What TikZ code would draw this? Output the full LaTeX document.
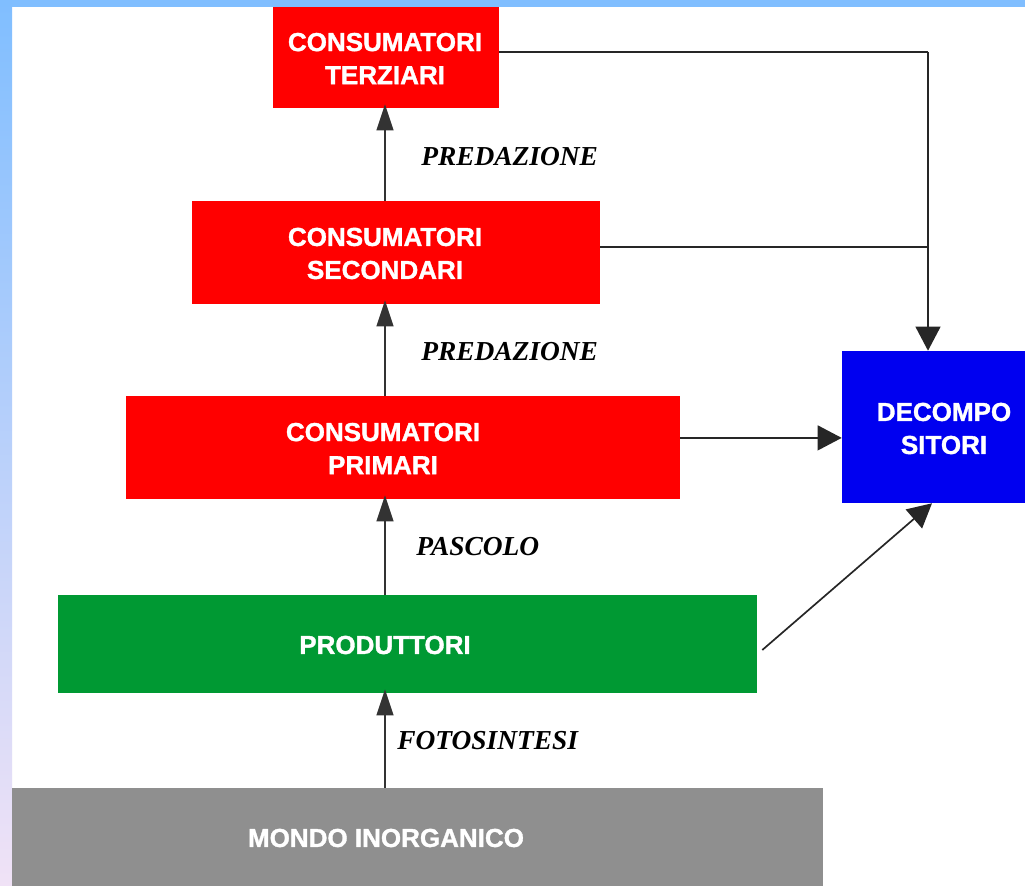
\documentclass[tikz,border=0pt]{standalone}
\usepackage{fontspec}
\setmainfont{Liberation Serif}
\setsansfont{Liberation Sans}
\newfontfamily\levelfont{Liberation Sans}[UprightFeatures={FakeBold=1.3}, BoldFeatures={FakeBold=1.3}]
\usetikzlibrary{arrows.meta}
\definecolor{bgblue}{RGB}{128,190,255}
\definecolor{bglilac}{RGB}{240,226,246}
\definecolor{levred}{RGB}{255,0,0}
\definecolor{levgreen}{RGB}{0,153,51}
\definecolor{levblue}{RGB}{0,0,240}
\definecolor{levgray}{RGB}{143,143,143}

\begin{document}
\begin{tikzpicture}[line cap=butt, line join=miter,
	level/.style={draw=none, fill=#1, minimum width=0pt, inner sep=0pt},
	leveltext/.style={text=white, align=center, inner sep=0pt,
		font=\levelfont\bfseries\fontsize{18.5}{23.5}\selectfont},
	process/.style={anchor=west, inner sep=0pt,
		font=\rmfamily\bfseries\itshape\fontsize{19.5}{22}\selectfont},
	flow/.style={draw=black!85, line width=1.2pt,
		-{Triangle[length=0.6cm, width=0.62cm]}},
	upflow/.style={draw=black!80, line width=1.2pt,
		-{Triangle[length=0.65cm, width=0.42cm]}, shorten >=-0.1cm},
	link/.style={draw=black!85, line width=1.2pt}]
\useasboundingbox (0,0) rectangle (25.625,22.125);
%========================
% frame
%========================
\fill[white] (0,0) rectangle (25.625,22.125);
\shade[top color=bgblue, bottom color=bglilac] (0,0) rectangle (0.3,22.125);
\fill[bgblue] (0,21.95) rectangle (25.625,22.125);

%========================
% trophic levels
%========================
\node[level=levred, minimum width=5.65cm, minimum height=2.525cm] (ter) at (9.65,20.6875) {};
\node[leveltext] (ter-txt) at (9.625,20.6625) {CONSUMATORI\\TERZIARI};

\node[level=levred, minimum width=10.2cm, minimum height=2.575cm] (sec) at (9.9,15.8125) {};
\node[leveltext] (sec-txt) at (9.625,15.7875) {CONSUMATORI\\SECONDARI};

\node[level=levred, minimum width=13.85cm, minimum height=2.575cm] (pri) at (10.075,10.9375) {};
\node[leveltext] (pri-txt) at (9.575,10.9125) {CONSUMATORI\\PRIMARI};

\node[level=levgreen, minimum width=17.475cm, minimum height=2.45cm] (pro) at (10.1875,6.025) {};
\node[leveltext] (pro-txt) at (9.625,6.0) {PRODUTTORI};

\node[level=levgray, minimum width=20.275cm, minimum height=2.55cm] (mon) at (10.4375,1.15) {};
\node[leveltext] (mon-txt) at (9.65,1.175) {MONDO INORGANICO};

\node[level=levblue, minimum width=4.7cm, minimum height=3.8cm] (dec) at (23.4,11.45) {};
\node[leveltext] (dec-txt) at (23.6,11.4125) {DECOMPO\\SITORI};

%========================
% energy flow up the chain
%========================
\coordinate (axis) at (9.625,0);
\draw[upflow] (axis |- mon.north) -- (axis |- pro.south);
\draw[upflow] (axis |- pro.north) -- (axis |- pri.south);
\draw[upflow] (axis |- pri.north) -- (axis |- sec.south);
\draw[upflow] (axis |- sec.north) -- (axis |- ter.south);

\node[process] (fot) at (9.925,3.6) {FOTOSINTESI};
\node[process] (pas) at (10.4,8.45) {PASCOLO};
\node[process] (pred1) at (10.525,13.325) {PREDAZIONE};
\node[process] (pred2) at (10.525,18.2) {PREDAZIONE};

%========================
% to the decomposers
%========================
\coordinate (jn) at (23.2,20.825);
\coordinate (jn2) at (23.2,15.95);
\draw[link] (ter.east |- jn) -- (jn);
\draw[link] (sec.east |- jn2) -- (jn2);
\draw[flow] (jn) -- (jn |- dec.north);
\coordinate (pe) at ([yshift=2.4mm]pri.east);
\draw[flow] (pe) -- (pe -| dec.west);
\draw[flow] ([shift={(0.125,-0.15)}]pro.east) -- ([xshift=-1mm]dec.south);
\end{tikzpicture}
\end{document}
